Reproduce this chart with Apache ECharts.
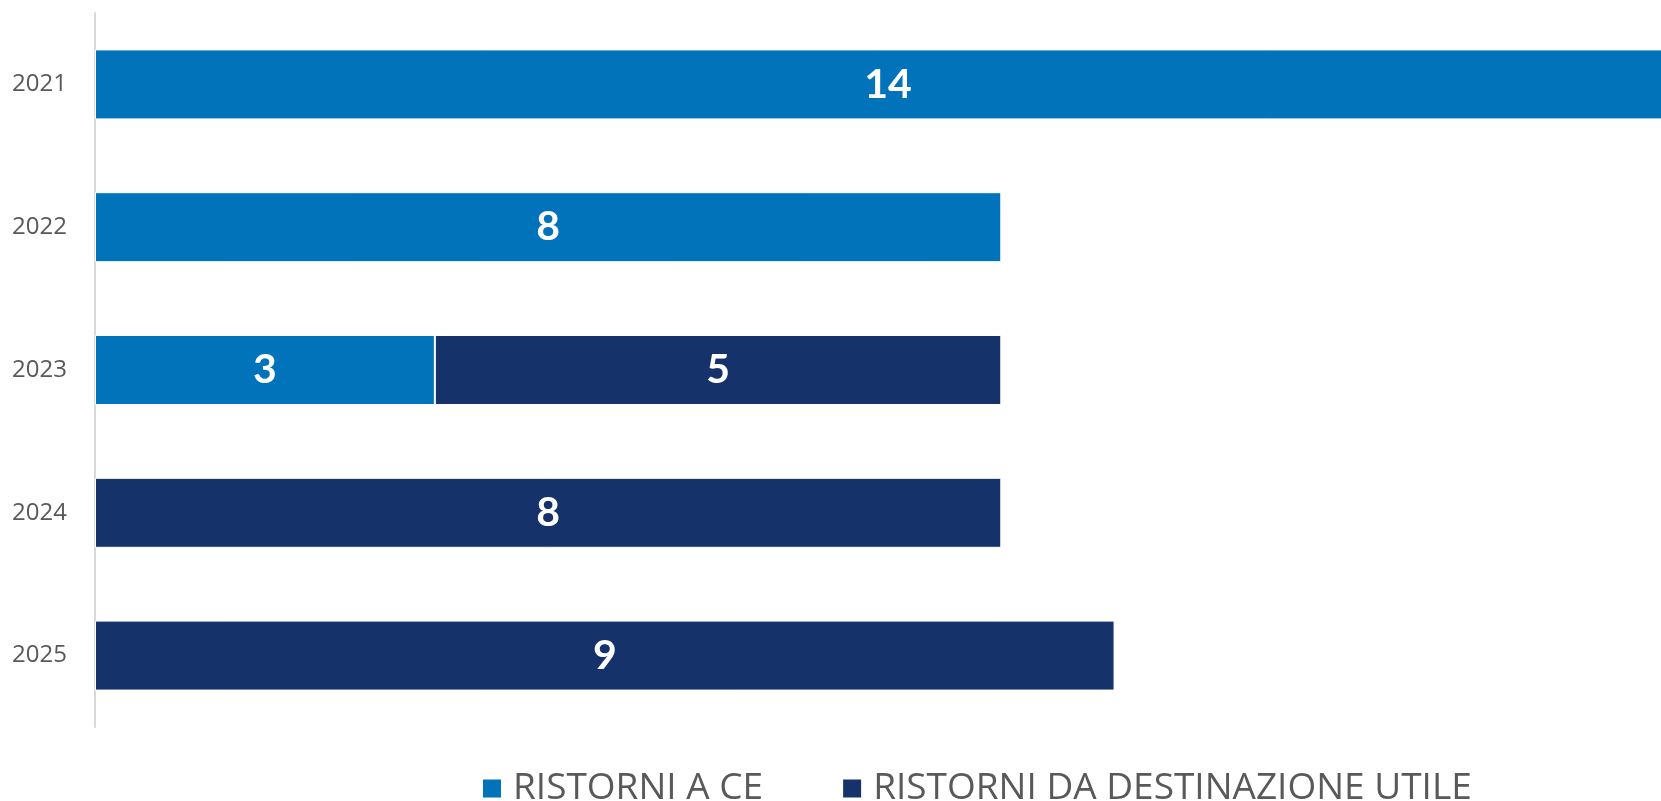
<!DOCTYPE html>
<html>
<head>
<meta charset="utf-8">
<script src="https://cdn.jsdelivr.net/npm/echarts@6/dist/echarts.min.js"></script>
<style>
  html, body { margin: 0; padding: 0; background: #fff; }
  #chart { width: 1661px; height: 801px; }
</style>
</head>
<body>
<div id="chart"></div>
<script>
const years = ['2021', '2022', '2023', '2024', '2025']
const ristorniCe = [14, 8, 3, null, null]
const ristorniUtile = [null, null, 5, 8, 9]
const seriesNames = ['RISTORNI A CE', 'RISTORNI DA DESTINAZIONE UTILE']

const myChart = echarts.init(document.getElementById('chart'))

const barLabel = {
  show: true,
  position: 'inside',
  color: '#fff',
  fontFamily: 'Lato',
  fontWeight: 'bold',
  fontSize: 41
}

const option = {
  animation: false,
  grid: { left: 95, right: -20, top: 13, bottom: 74, outerBoundsMode: 'none', containLabel: false },
  legend: {
    data: seriesNames,
    top: 765,
    left: 476,
    itemWidth: 20,
    itemHeight: 20,
    itemGap: 78,
    icon: 'rect',
    textStyle: { color: '#595959', fontSize: 37, fontFamily: 'Open Sans', padding: [0, 0, 0, 6] }
  },
  xAxis: {
    type: 'value',
    min: 0,
    max: 14,
    show: false
  },
  yAxis: {
    type: 'category',
    data: years,
    inverse: true,
    axisLine: { show: true, lineStyle: { color: '#d9d9d9', width: 2 } },
    axisTick: { show: false },
    axisLabel: { color: '#595959', fontSize: 24, fontFamily: 'Open Sans', margin: 28 }
  },
  series: [
    {
      name: seriesNames[0],
      type: 'bar',
      stack: 'tot',
      barCategoryGap: '51%',
      data: ristorniCe,
      itemStyle: { color: '#0073BA', borderColor: '#fff', borderWidth: 1 },
      label: barLabel
    },
    {
      name: seriesNames[1],
      type: 'bar',
      stack: 'tot',
      barCategoryGap: '51%',
      data: ristorniUtile,
      itemStyle: { color: '#15336A', borderColor: '#fff', borderWidth: 1 },
      label: barLabel
    }
  ]
}
myChart.setOption(option)
</script>
</body>
</html>
